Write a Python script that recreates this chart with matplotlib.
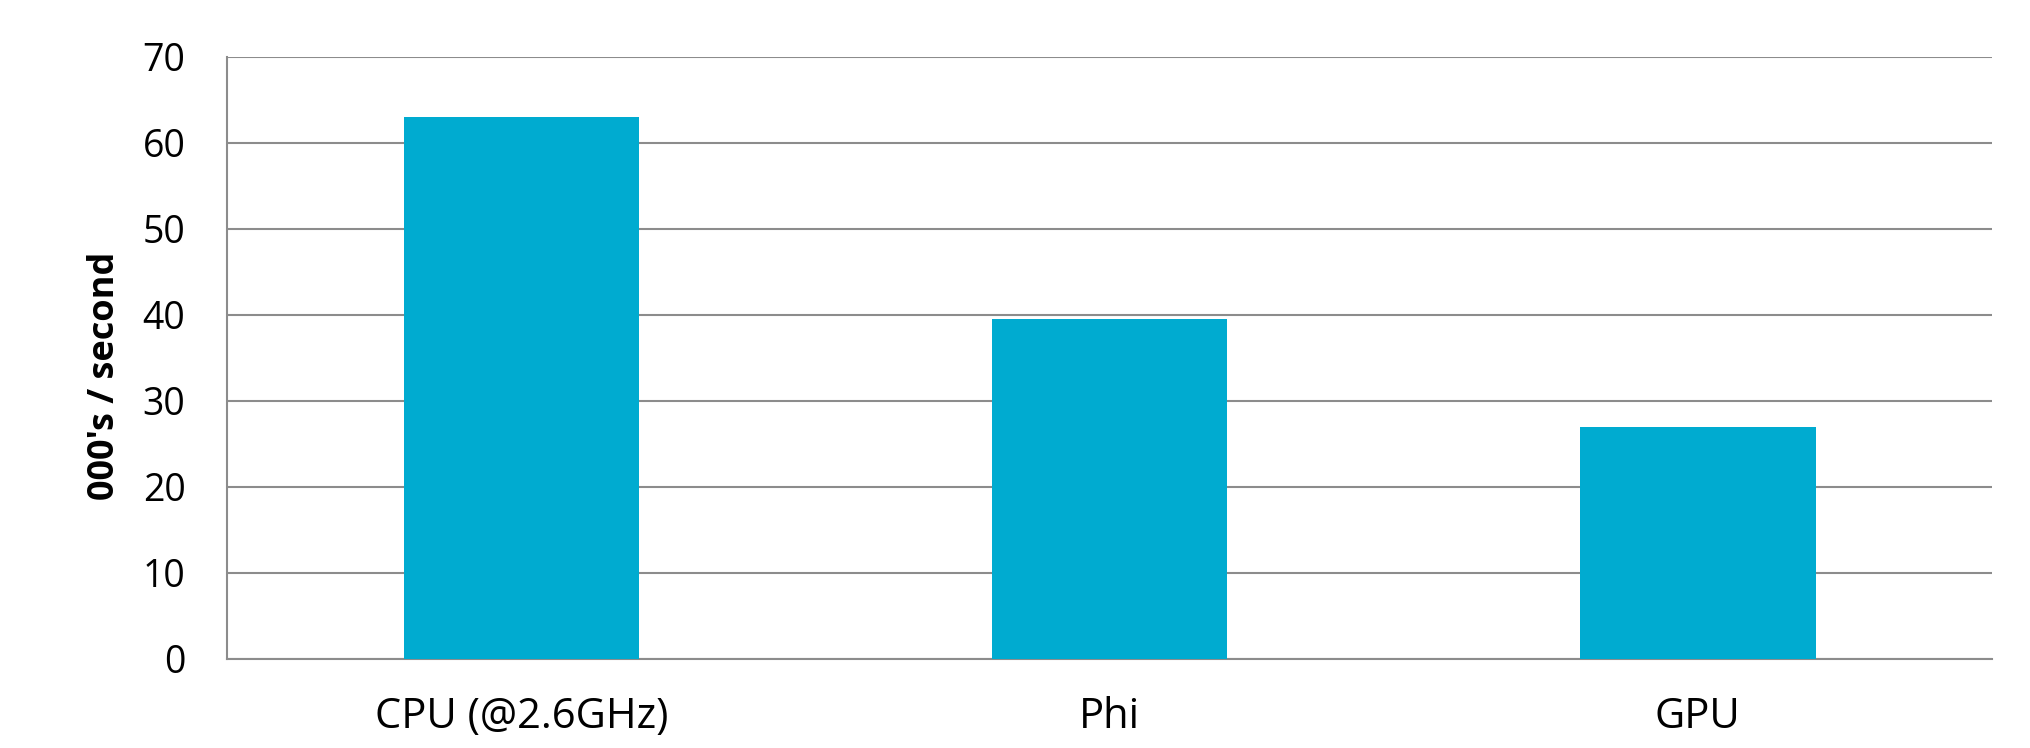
import matplotlib
matplotlib.use("Agg")
import matplotlib.pyplot as plt

categories = ["CPU (@2.6GHz)", "Phi", "GPU"]
values = [63, 39.5, 27]
y_ticks = [0, 10, 20, 30, 40, 50, 60, 70]

plt.rcParams["font.family"] = ["Open Sans", "DejaVu Sans"]

fig = plt.figure(figsize=(20.31, 7.48), dpi=100)
ax = fig.add_axes([0.1118, 0.1194, 0.8690, 0.8044])

ax.bar(range(len(categories)), values, width=0.4, color="#00abd0", zorder=3)

ax.set_xlim(-0.5, len(categories) - 0.5)
ax.set_ylim(0, 70)
ax.set_yticks(y_ticks)
ax.set_xticks(range(len(categories)))
ax.set_xticklabels(categories)

ax.yaxis.grid(True, color="#8c8c8c", linewidth=1.5, zorder=0)
for side in ["top", "right"]:
    ax.spines[side].set_visible(False)
for side in ["left", "bottom"]:
    ax.spines[side].set_color("#8c8c8c")
    ax.spines[side].set_linewidth(1.5)

ax.tick_params(axis="y", length=0, pad=30, labelsize=27)
ax.tick_params(axis="x", length=0, pad=27, labelsize=30)

# y label sits close to the tick numbers in the original
ax.set_ylabel("000's / second", fontsize=26, fontweight="bold")
ax.yaxis.set_label_coords(-0.059, 0.47)

fig.savefig("out.png", dpi=100)
